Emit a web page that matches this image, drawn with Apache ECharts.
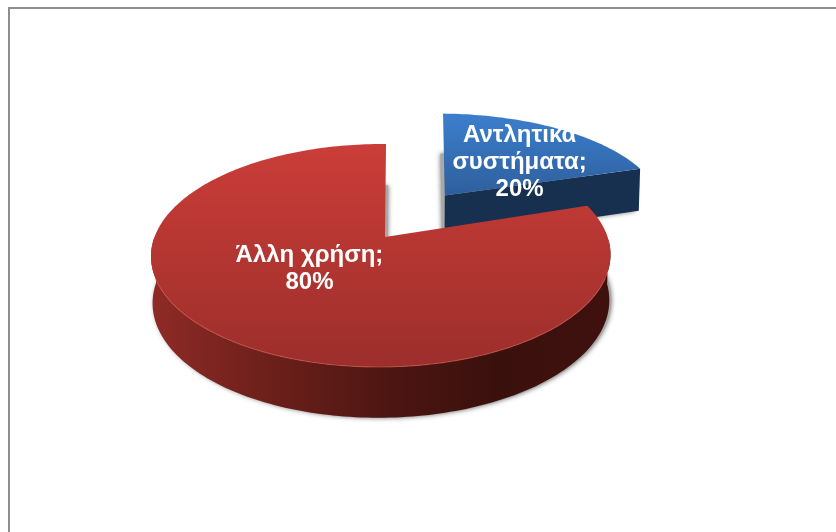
<!DOCTYPE html>
<html>
<head>
<meta charset="utf-8">
<style>html,body{margin:0;padding:0;background:#fff}#chart{width:836px;height:532px}</style>
<script src="https://cdn.jsdelivr.net/npm/echarts@6/dist/echarts.min.js"></script>
</head>
<body>
<div id="chart"></div>
<script>
// Slices, clockwise from twelve o'clock
const categories = ['Αντλητικά\nσυστήματα', 'Άλλη χρήση'];
const values = [20, 80];

// How far each slice is pulled out of the disc, in disc units
const pullOut = [[0.258, -0.41], [0, 0]];

// Camera model of the tilted disc: maps unit-disc coordinates to pixels
const baseView = { cx: 385, cy: 237, ax: 226.5, ay: 108.4, shear: -1.2, tiltV: 0.166, tiltU: 0.0174 };
const views = [Object.assign({}, baseView, { ax: 236, shear: -7.8 }), baseView];
const wall = { height: 45.5, power: 0.6, shrink: 0.994, pivot: 415 };

// Per-slice styling and label anchors in disc coordinates
const styles = [
  { top: ['#3C7FCE', '#2E5F9C'], wall: ['#17304F'], rim: null, hasFrontArc: false, haloShift: -2.5 },
  { top: ['#CB3D38', '#9C2E2B'], wall: ['#8F2A26', '#6E201B', '#4F1612', '#3A100D', '#3F110E'], rim: 'rgba(214,92,84,0.55)', hasFrontArc: true, haloShift: 2 }
];
const labelAt = [[0.675, -0.79], [-0.315, 0.275]];

const total = values.reduce((a, b) => a + b, 0);

function project(u, v, view) {
  const w = 1 - view.tiltV * v + view.tiltU * u;
  return { x: view.cx + (view.ax * u + view.shear * v) / w, y: view.cy + view.ay * v / w, w };
}
function pt(p) { return [p.x, p.y]; }
function lowered(p) {
  return [wall.pivot + (p.x - wall.pivot) * wall.shrink, p.y + wall.height / Math.pow(p.w, wall.power)];
}

function renderSlice(params, api) {
  const i = params.dataIndex;
  const value = api.value(0);
  const before = values.slice(0, i).reduce((a, b) => a + b, 0);
  const a0 = before / total * 2 * Math.PI;
  const a1 = (before + value) / total * 2 * Math.PI;
  const [ou, ov] = pullOut[i];
  const view = views[i];
  const style = styles[i];

  const arc = [];
  const steps = Math.ceil(value * 3);
  for (let s = 0; s <= steps; s++) {
    const t = a0 + (a1 - a0) * s / steps;
    arc.push(project(ou + Math.sin(t), ov - Math.cos(t), view));
  }
  const tip = project(ou, ov, view);
  const end = arc[arc.length - 1];

  const topPts = [pt(tip)].concat(arc.map(pt));
  const basePts = [lowered(tip)].concat(arc.map(lowered)).map(p => [p[0] + style.haloShift, p[1]]);

  // The base only shows as a soft grey halo around the walls
  const children = [{
    type: 'polygon', shape: { points: basePts },
    style: { fill: '#A8A8A8', shadowBlur: 5, shadowColor: 'rgba(70,70,70,0.8)' }
  }];

  if (style.hasFrontArc) {
    const front = arc.filter(p => p.y > tip.y);
    const stops = style.wall.map((c, k) => ({ offset: k / (style.wall.length - 1), color: c }));
    children.push({
      type: 'polygon',
      shape: { points: front.map(pt).concat(front.map(lowered).reverse()) },
      style: { fill: { type: 'linear', x: 0, y: 0, x2: 1, y2: 0, colorStops: stops } }
    });
  } else {
    children.push({
      type: 'polygon',
      shape: { points: [pt(tip), pt(end), lowered(end), lowered(tip)] },
      style: { fill: style.wall[0] }
    });
  }

  children.push({
    type: 'polygon', shape: { points: topPts },
    style: { fill: { type: 'linear', x: 0, y: 0, x2: 0, y2: 1,
      colorStops: [{ offset: 0, color: style.top[0] }, { offset: 1, color: style.top[1] }] } }
  });

  if (style.rim) {
    children.push({
      type: 'polyline', shape: { points: arc.filter(p => p.y > tip.y + 40).map(pt) },
      style: { fill: 'none', stroke: style.rim, lineWidth: 1.2 }
    });
  }

  const anchor = project(labelAt[i][0], labelAt[i][1], baseView);
  children.push({
    type: 'text', z2: 10, x: anchor.x, y: anchor.y,
    style: {
      text: categories[i] + ';\n' + Math.round(value / total * 100) + '%',
      fill: '#fff', font: 'bold 24px "Liberation Sans", Arial, sans-serif',
      align: 'center', verticalAlign: 'middle', lineHeight: 27
    }
  });
  return { type: 'group', children };
}

const chart = echarts.init(document.getElementById('chart'), null, { renderer: 'canvas' });
chart.setOption({
  animation: false,
  backgroundColor: '#fff',
  graphic: [{
    type: 'rect', silent: true,
    shape: { x: 9, y: 8, width: 1200, height: 1200 },
    style: { fill: 'none', stroke: '#8E8E8E', lineWidth: 2 }
  }],
  series: [{
    type: 'custom',
    coordinateSystem: 'none',
    renderItem: renderSlice,
    data: values.map(v => [v])
  }]
});
</script>
</body>
</html>
